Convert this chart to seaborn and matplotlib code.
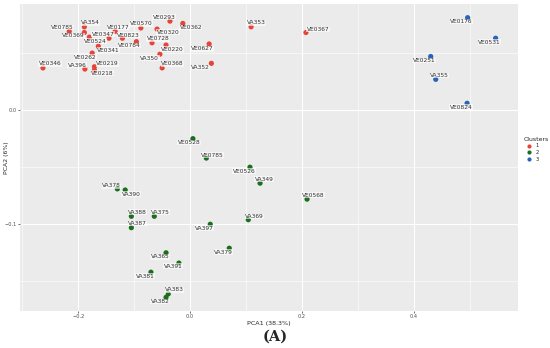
import pandas as pd
import matplotlib.pyplot as plt
import seaborn as sns
from matplotlib.ticker import MultipleLocator

# sample labels, PCA scores and cluster ids
labels = ['VE0785', 'VA354', 'VE0369', 'VE0524', 'VE0347', 'VE0177', 'VE0823', 'VE0570',
          'VE0293', 'VE0320', 'VE0362', 'VE0784', 'VE0728', 'VE0220', 'VE0341', 'VE0262',
          'VA350', 'VE0368', 'VE0627', 'VA352', 'VE0346', 'VA396', 'VE0219', 'VE0218',
          'VA353', 'VE0367',
          'VE0176', 'VE0531', 'VE0251', 'VA355', 'VE0824',
          'VE0528', 'VE0785', 'VE0526', 'VA349', 'VA378', 'VA390', 'VA388', 'VA375',
          'VA387', 'VA397', 'VA369', 'VA379', 'VA365', 'VA391', 'VA381', 'VA383',
          'VA382', 'VE0568']
pca1 = [-0.216, -0.189, -0.189, -0.180, -0.145, -0.134, -0.121, -0.088,
        -0.036, -0.059, -0.013, -0.096, -0.068, -0.043, -0.164, -0.175,
        -0.054, -0.050, 0.034, 0.038, -0.263, -0.188, -0.171, -0.171,
        0.109, 0.207,
        0.496, 0.546, 0.430, 0.439, 0.495,
        0.005, 0.029, 0.107, 0.125, -0.130, -0.116, -0.105, -0.064,
        -0.105, 0.036, 0.104, 0.070, -0.043, -0.020, -0.070, -0.039,
        -0.043, 0.209]
pca2 = [0.069, 0.073, 0.068, 0.064, 0.063, 0.069, 0.063, 0.072,
        0.078, 0.071, 0.076, 0.060, 0.059, 0.057, 0.056, 0.050,
        0.049, 0.037, 0.058, 0.041, 0.037, 0.036, 0.038, 0.035,
        0.073, 0.068,
        0.081, 0.063, 0.047, 0.027, 0.006,
        -0.025, -0.042, -0.050, -0.064, -0.069, -0.070, -0.093, -0.093,
        -0.103, -0.100, -0.096, -0.121, -0.125, -0.134, -0.142, -0.161,
        -0.164, -0.078]
clusters = ['1'] * 26 + ['3'] * 5 + ['2'] * 18

# label offsets in pixels (right, down), like ggrepel placed them
offsets = [(-7, -4), (6, -4), (-11, 3), (6, 4), (-6, -4), (3, -4), (6, -3), (0, -4),
           (-6, -4), (11, 3), (8, 4), (-7, 4), (6, -4), (6, 4), (10, 4), (-7, 4),
           (-10, 4), (10, -4), (-7, 5), (-11, 4), (7, -4), (-8, -4), (13, -3), (8, 3),
           (5, -4), (12, -3),
           (-6, 4), (-6, 4), (-6, 4), (4, -4), (-6, 4),
           (-4, 4), (6, -3), (-6, 4), (4, -4), (-6, -3), (6, 4), (6, -4), (6, -4),
           (6, -4), (-6, 4), (6, -3), (-6, 4), (-6, 4), (-6, 3), (-6, 4), (6, -4),
           (-6, 4), (6, -4)]

df = pd.DataFrame({'PCA1': pca1, 'PCA2': pca2, 'Clusters': clusters, 'label': labels})

palette = {'1': '#E5443B', '2': '#1B6E1B', '3': '#2A62B8'}

sns.set_theme(style='darkgrid', rc={'axes.facecolor': '#EBEBEB', 'grid.color': 'white'})
plt.rcParams['font.family'] = ['DejaVu Sans']

fig = plt.figure(figsize=(5.5, 3.48), dpi=100)
ax = fig.add_axes([20 / 550, 1 - 311 / 348, 498 / 550, 307 / 348])

sns.scatterplot(data=df, x='PCA1', y='PCA2', hue='Clusters', hue_order=['1', '2', '3'],
                palette=palette, s=14, edgecolor='none', ax=ax)

for lab, x, y, (dx, dy) in zip(df['label'], df['PCA1'], df['PCA2'], offsets):
    ax.annotate(lab, (x, y), xytext=(dx * 0.72, -dy * 0.72), textcoords='offset points',
                ha='center', va='center', fontsize=4.2, color='#333333',
                bbox=dict(boxstyle='square,pad=0.05', fc='white', ec='none', alpha=0.6))

ax.set_xlim(-0.304, 0.586)
ax.set_ylim(-0.176, 0.093)
ax.xaxis.set_major_locator(MultipleLocator(0.2))
ax.xaxis.set_minor_locator(MultipleLocator(0.1))
ax.yaxis.set_major_locator(MultipleLocator(0.1))
ax.yaxis.set_minor_locator(MultipleLocator(0.05))
ax.grid(which='major', color='white', linewidth=0.8)
ax.grid(which='minor', color='white', linewidth=0.4)
ax.tick_params(axis='both', which='major', labelsize=3.6, labelcolor='#4D4D4D',
               length=1.5, width=0.5, color='#333333', pad=1, bottom=True, left=True)
ax.tick_params(which='minor', length=0)
for s in ax.spines.values():
    s.set_visible(False)

ax.set_xlabel('PCA1 (38.3%)', fontsize=4.6, labelpad=1)
ax.set_ylabel('PCA2 (6%)', fontsize=4.4)
ax.yaxis.set_label_coords(-0.023, 0.5)

leg = ax.legend(title='Clusters', loc='upper left', bbox_to_anchor=(1.008, 0.575),
                frameon=False, fontsize=3.8, title_fontsize=4.4, markerscale=0.8,
                handletextpad=0.1, labelspacing=0.35, borderaxespad=0)
leg._legend_box.align = 'left'

fig.text(0.5, 1 - 337 / 348, '(A)', ha='center', va='center', fontsize=10.5,
         fontweight='bold', family='DejaVu Serif')

fig.savefig('out.png', dpi=100)
